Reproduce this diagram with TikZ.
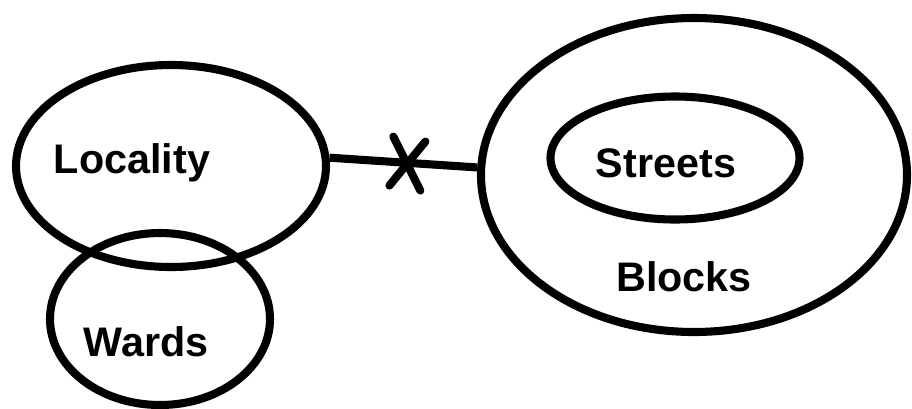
\documentclass[tikz,border=0pt]{standalone}
\usepackage{fontspec}
\setmainfont{Liberation Sans}
\usepackage{tikz}
\usetikzlibrary{shapes.geometric,calc}

\begin{document}
\begin{tikzpicture}[
  set/.style={draw, ellipse, line width=4.6pt, inner sep=0pt},
  lbl/.style={font=\fontsize{23.5}{28}\bfseries\selectfont, inner sep=0pt}]
       \useasboundingbox (0,0) rectangle (18.24,-8.16);

       \node(L)[set, minimum width=6.2cm, minimum height=4.04cm] at (3.42,-3.32) {};
       \node(NL)[lbl] at (2.64,-3.26) {Locality};

       \node(W)[set, minimum width=4.4cm, minimum height=3.44cm] at (3.2,-6.38) {};
       \node(NW)[lbl] at (2.92,-6.84) {Wards};

       \node(B)[set, minimum width=8.52cm, minimum height=6.28cm] at (13.88,-3.5) {};
       \node(NB)[lbl] at (13.68,-5.54) {Blocks};

       \node(S)[set, minimum width=4.98cm, minimum height=2.46cm] at (13.5,-3.16) {};
       \node(NS)[lbl] at (13.32,-3.26) {Streets};

       \draw[line width=4.6pt] (L.3) -- (B.178);

       \coordinate(X) at ($(L.3)!0.5!(B.178)$);
       \draw[line width=4.6pt, line cap=round] ([shift={(-0.2,0.52)}]X) -- ([shift={(0.34,-0.56)}]X);
       \draw[line width=4.6pt, line cap=round] ([shift={(0.44,0.42)}]X) -- ([shift={(-0.28,-0.46)}]X);
      \end{tikzpicture}
\end{document}
